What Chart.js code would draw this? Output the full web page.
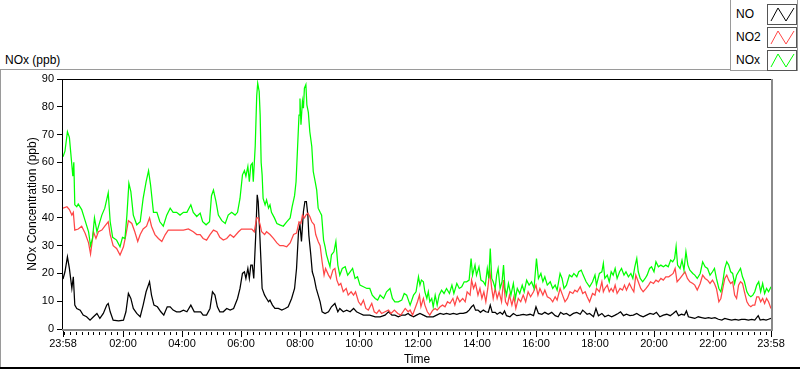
<!DOCTYPE html>
<html>
<head>
<meta charset="utf-8">
<script src="https://cdn.jsdelivr.net/npm/chart.js@4.4.1/dist/chart.umd.min.js"></script>
<style>
  html, body { margin: 0; padding: 0; background: #fff; }
  #wrap { position: relative; width: 800px; height: 369px; overflow: hidden; font-family: "Liberation Sans", Arial, sans-serif; color: #000; }
  #c { position: absolute; left: 0; top: 0; }
  .pline { position: absolute; background: #9a9a9a; }
  #legend { position: absolute; left: 730px; top: -1px; width: 68px; height: 72px; border: 1px solid #9a9a9a; box-sizing: border-box; background: #fff; }
  .lgText { position: absolute; left: 5px; font-size: 12px; line-height: 14px; }
  .lgBox { position: absolute; left: 36px; width: 30px; height: 21px; border: 1px solid #555; box-sizing: border-box; background: #fff; }
  .lgBox svg { position: absolute; left: 0; top: 0; }
  #unit { position: absolute; left: 5px; top: 53px; font-size: 12px; line-height: 14px; }
</style>
</head>
<body>
<div id="wrap">
  <div class="pline" style="left:0;top:69px;width:731px;height:1px;"></div>
  <div class="pline" style="left:0;top:69px;width:1px;height:299px;"></div>
  <div class="pline" style="left:0;top:367px;width:800px;height:2px;background:#000;"></div>
  <div id="unit">NOx (ppb)</div>
  <div id="legend"></div>
  <canvas id="c" width="800" height="369"></canvas>
</div>
<script>
// ---- Data (minutes after 23:58 start, values in ppb) ----
const seriesNames = ['NO', 'NO2', 'NOx'];
const seriesColors = ['#000000', '#ff4646', '#00ff00'];

const majorTickMinutes = [0, 122, 242, 362, 482, 602, 722, 842, 962, 1082, 1202, 1322, 1440];
const tickLabels = ['23:58', '02:00', '04:00', '06:00', '08:00', '10:00', '12:00', '14:00', '16:00', '18:00', '20:00', '22:00', '23:58'];
const yTickValues = [0, 10, 20, 30, 40, 50, 60, 70, 80, 90];

const noxT = [
  0,4,9,13,16,20,22,24,28,31,
  38,45,52,56,60,64,69,74,79,85,
  92,96,101,109,116,121,126,130,134,138,
  143,150,157,163,169,174,178,184,191,197,
  204,211,218,224,231,238,245,252,260,265,
  272,279,284,291,298,302,306,311,316,323,
  330,336,343,350,
  355,360,365,369,372,376,379,382,385,387,
  391,394,396,399,401,403,405,407,411,414,
  418,421,424,430,435,441,448,455,462,466,
  471,474,477,480,482,484,487,489,491,494,
  496,499,502,506,509,513,516,519,523,526,
  530,533,536,540,543,546,551,555,559,563,
  568,574,579,584,589,594,599,604,611,618,
  624,629,635,640,645,652,658,665,670,675,
  682,689,694,699,
  706,713,718,723,726,729,733,736,740,743,
  746,750,753,757,761,765,770,775,780,786,
  791,795,801,806,811,816,821,826,830,833,
  838,841,846,850,855,859,863,866,869,872,
  875,879,882,885,889,893,896,899,902,906,
  911,916,920,924,929,934,938,943,948,953,
  958,963,967,972,976,980,985,991,996,1001,
  1005,1011,1015,1019,1024,1030,1035,1039,1045,1049,
  1054,1058,1064,1071,
  1077,1082,1085,1091,1096,1099,1102,1107,1111,1115,
  1119,1123,1127,1132,1136,1141,1145,1150,1155,1159,
  1163,1167,1170,1174,1179,1184,1188,1193,1197,1202,
  1206,1211,1216,1221,1226,1231,1236,1240,1244,1247,
  1250,1255,1259,1263,1267,1271,1275,1281,1285,1290,
  1296,1301,1306,1311,1316,1321,1325,1329,1334,1338,
  1342,1346,1350,1354,1358,1362,1366,1370,1374,1378,
  1382,1386,1391,1395,1399,1403,1407,1411,1415,1419,
  1423,1427,1431,1435,1440
];
const noxV = [
  62,64,71,69,63,55,60,44.7,44,45,
  43,39,35,30,32.6,40,35,38,41,43.5,
  49,38.6,33,32,29.6,33,32.6,41,52.5,49.5,
  41,37.5,38.6,47,53,57,52,42,42,38.6,
  37,41,43.5,42,42,41,42,42,44.7,42,
  40.5,41.7,38.6,37.5,38.6,48,50,46,41,39,
  38,41,42,41,
  42,47,55.5,57,55,58.5,53,59,59.7,53,
  66,84,88.5,85.5,77,60,55.5,47,44.7,46.5,
  43.5,44.7,42,40,38,37.5,37,38.6,40,44,
  48,53,65,77,83,73.5,82,79.5,86.7,88,
  80.7,78,71,65.7,56.7,53,50,43.5,42,41,
  32,29.7,26.7,24.2,22.4,26.7,27.8,31.5,23,19.4,
  21.8,22.4,19.4,20.6,21.8,18.2,18.8,15.8,15.2,14.6,
  14.6,12.2,11,10.4,12.2,11,13.4,14.6,11,9.8,
  9.8,10.4,12.8,12.2,
  8.6,12.2,13.4,18.8,15.8,17.6,17,13.4,11,13.4,
  9.8,11,8,12.2,8.6,12.2,14,12.8,14.6,12.8,
  15.8,12.8,16.4,14.6,15.2,17,17,17.6,25.4,19.4,
  23,19.4,22.4,17.6,17,15.8,21.8,18.2,29,18.2,
  17,14.6,19.4,21.8,14.6,17,23,14.6,12.2,16.4,
  12.2,16.4,11,14.6,12.8,15.8,13.4,17.6,15.8,17,
  14.6,25.4,18.2,20,17,18.8,15.8,17,14.6,15.8,
  14,20,18.2,14.6,15.8,19.4,18.8,20,18.8,20.6,
  21.2,19.4,17,15.2,
  17,19.4,15.8,20,20.6,23.6,18.2,19.4,17,20.6,
  19.4,21.8,18.2,20.6,21.8,19.4,20.6,18.8,20,18.2,
  22.4,25.4,20.6,18.2,17,18.2,19.4,21.8,22.4,20.6,
  24.2,22.4,23,22.4,23,22.4,24.8,24.2,25.4,29.7,
  23,21.8,24.8,21.2,27.8,23,21.2,20,19.4,18.2,
  20,24.2,22.4,21.8,19.4,20.6,21.8,18.2,14.6,13.4,
  17,21.8,24.2,23,20.6,20,16.4,19.4,20.6,21.8,
  18.8,17,13.4,12.2,11.6,12.2,13.4,15.8,17,13.4,
  16.4,12.8,14.6,13.4,15.2
];

const no2T = [
  0,8,13,18,21,24,31,38,45,52,
  56,62,67,72,79,85,92,96,102,109,
  116,123,128,133,140,146,152,157,163,170,
  176,180,187,194,201,208,214,224,235,245,
  255,265,272,279,285,292,299,306,313,319,
  326,333,340,347,
  357,363,370,377,384,389,394,397,401,404,
  410,414,421,428,435,441,448,455,462,469,
  475,480,484,487,491,494,498,502,506,511,
  514,519,523,527,531,534,540,544,549,553,
  557,561,565,570,576,580,586,591,595,601,
  606,611,616,621,628,633,638,643,648,655,
  662,667,674,681,687,696,702,
  706,711,716,721,725,728,733,736,741,746,
  752,757,761,767,772,777,782,787,793,797,
  802,807,813,818,822,828,831,835,839,844,
  848,852,856,860,864,868,872,875,879,883,
  887,892,896,900,904,908,913,917,921,926,
  931,936,941,946,951,957,962,966,970,976,
  980,985,991,996,1001,1005,1011,1016,1021,1026,
  1031,1037,1041,1046,1052,1057,1062,1066,1071,
  1077,1082,1085,1091,1096,1099,1102,1107,1111,1115,
  1119,1123,1127,1133,1138,1142,1146,1152,1157,1161,
  1165,1170,1175,1180,1186,1191,1195,1201,1206,1211,
  1216,1221,1226,1232,1237,1241,1245,1249,1255,1260,
  1265,1270,1275,1281,1285,1290,1296,1301,1306,1311,
  1316,1321,1325,1329,1334,1338,1342,1346,1350,1354,
  1358,1362,1366,1370,1374,1378,1382,1386,1391,1395,
  1399,1403,1407,1411,1415,1419,1423,1427,1431,1435,
  1440
];
const no2V = [
  43.5,44,43,41,42,35.6,36,37,34.5,31,
  27,35,32.6,35,35.6,37,38.6,34,30,29,
  26.6,29.6,34,39,38,35,31.5,34,36,37,
  40,37,34,32.6,31.5,34,35.6,35.6,35.6,35.6,
  36,35,34,34,32.6,32,34,35.6,35,33,
  32,32.6,34,33,
  35,36,36,36,36,35,40,40,37.5,35,
  34,35,34,32.6,31,30,30,29.6,31,34,
  34.5,38.6,38,41,40,41,41.7,40.5,38.6,37.5,
  34,31.5,30,24.2,19.4,21.8,19.4,18.2,21.2,21.8,
  17.6,15.8,16.4,13.4,14.6,12.2,13.4,12.2,13.4,9.8,
  8.6,10.4,7.4,6.8,9.2,6.2,5.6,6.8,5.6,6.2,
  6.8,5.6,6.8,5.6,5,7.4,6.2,
  6.8,5,7.4,9.8,12.2,8,11,8.6,6.2,5,
  6.8,7.4,6.8,8,8.6,8,9.8,9.2,11,8.6,
  11.6,9.8,11,9.8,13.4,12.2,17.6,14.6,16.4,12.2,
  14.6,11,13.4,9.8,14.6,21.2,14.6,11,14.6,11,
  13.4,9.8,17.6,9.8,8.6,12.2,8.6,11.6,7.4,11,
  9.8,12.2,9.8,13.4,11.6,13.4,15.8,12.2,14.6,12.2,
  14,11.6,11,9.8,11.6,10.4,14.6,12.2,9.8,11,
  13.4,12.8,14,13.4,15.2,12.8,13.4,11.6,9.8,
  12.8,12.2,14.6,13.4,17,13.4,14.6,15.8,13.4,14.6,
  13.4,15.8,12.8,14.6,14,15.8,14,16.4,14.6,13.4,
  19.4,17,14.6,13.4,14.6,15.8,17,16.4,17.6,17,
  18.2,17.6,18.8,18.8,19.4,20,21.8,17,18.2,19.4,
  20.6,18.2,17,16.4,15.8,14,16.4,19.4,18.2,17.6,
  16.4,17.6,16.4,14.6,9.8,11,14.6,18.2,19.4,17.6,
  16.4,17,12.2,11,15.8,17,16.4,13.4,9.8,8.6,
  8,8.6,8.6,11.6,11.6,9.8,11,9.2,11,9.8,
  7.4
];

const noT = [
  0,4,9,13,18,21,24,28,35,41,
  48,55,62,69,75,82,89,92,96,102,
  113,123,128,133,138,143,150,157,163,169,
  176,180,185,192,199,205,212,218,224,231,
  238,245,252,260,267,273,280,285,292,299,
  304,309,314,319,326,333,340,347,
  355,360,365,369,372,376,379,382,385,388,
  392,395,397,400,403,405,410,414,418,421,
  426,431,438,445,452,458,465,471,475,479,
  482,485,489,492,495,498,500,504,507,511,
  515,519,523,527,533,540,546,553,559,563,
  570,577,584,591,597,604,611,618,624,635,
  645,655,662,669,675,682,689,696,702,
  706,713,719,726,733,740,746,753,760,767,
  774,780,787,794,801,807,814,821,826,831,
  835,839,844,849,855,860,865,869,873,879,
  883,889,894,898,902,909,916,923,929,936,
  943,950,957,962,967,974,980,987,994,1001,
  1007,1012,1018,1024,1031,1038,1045,1052,1057,1062,
  1066,1071,
  1079,1084,1089,1096,1102,1109,1116,1123,1129,1134,
  1140,1146,1153,1160,1167,1174,1180,1187,1194,1201,
  1207,1214,1221,1228,1235,1241,1247,1252,1258,1264,
  1268,1272,1279,1285,1292,1299,1306,1313,1319,1326,
  1333,1340,1346,1353,1360,1367,1374,1380,1387,1394,
  1401,1407,1414,1418,1424,1430,1435,1440
];
const noV = [
  18,20.6,26,21.8,14.6,18.8,8.6,7.4,6.8,5,
  4.4,3.2,4.4,5.6,3.8,5.6,8.6,9.2,6.2,3.2,
  2.9,3.2,6.2,12.8,11,7.4,5.6,4.4,8.6,13.4,
  17,12.2,8.6,8,6.2,5,8,8,6.8,6.2,
  6.2,6.8,6.2,8.6,6.2,6.2,6.2,5,5,7.4,
  13.4,12.2,8,6.2,6.2,7.4,6.8,7.4,
  11,14.6,20,20.6,18.2,21.8,18.2,23,23,18.2,
  33.8,48.3,45.9,35,23,14.6,12.2,11,9.8,10.4,
  8.6,7.4,7.4,6.8,7.4,8,11,14.6,21.8,35,
  37.5,31.5,42.3,45.9,45.9,41,33.8,26.7,20.6,18.2,
  14.6,12.2,9.8,6.2,5.6,6.2,8,9.2,6.2,7.4,
  6.2,6.8,6.2,7.4,6.2,5.6,5,5,5,4.4,
  4.4,5,6.2,5,5,4.4,5,5,5.6,
  5,4.4,5,5.6,5,4.4,4.4,4.4,5,5.6,
  5.3,5.6,5.3,5.6,5.3,5.6,5.6,6,6.8,8,
  8.6,6.8,6.8,6,6.8,6.2,6,8.6,6,6,
  5.3,6,5.3,6.5,4.8,4.4,5.6,4.8,5,5.3,
  5,5.3,4.8,8,5.6,5.3,6,5.3,6,4.8,
  4.4,6,5.3,5.6,4.8,5.6,6,5.3,6.8,6,
  5.3,5.6,
  4.4,7.4,4.8,5.6,4.4,5,4.4,5,5.6,6.2,
  4.8,5.3,4.8,5,5.6,4.8,4.4,5,5.6,5.3,
  6,4.4,5,5.3,4.8,5.6,6.5,4.8,5.3,5,
  6.5,4.4,4.1,3.8,4.4,4.1,3.8,4.1,3.8,4.1,
  3.5,3.2,3.8,3.5,3.2,3.5,3.2,3.5,3.5,3.2,
  3.5,3.2,4.8,3.2,3.5,3.2,3.5,3.8
];

// ---- Legend (HTML, LabVIEW style) ----
const legend = document.getElementById('legend');
seriesNames.forEach((name, i) => {
  const top = 4 + i * 23;
  const t = document.createElement('div');
  t.className = 'lgText';
  t.style.top = (top + 3) + 'px';
  t.textContent = name;
  legend.appendChild(t);
  const b = document.createElement('div');
  b.className = 'lgBox';
  b.style.top = top + 'px';
  b.innerHTML = '<svg width="28" height="19"><polyline points="3,16 10,3 18,16 26,3" fill="none" stroke="' + seriesColors[i] + '" stroke-width="1"/></svg>';
  legend.appendChild(b);
});

// ---- Chart ----
Chart.defaults.font.family = '"Liberation Sans", Arial, sans-serif';
Chart.defaults.color = '#000';

const toPoints = (ts, vs) => ts.map((t, i) => ({ x: t, y: vs[i] }));

const framePlugin = {
  id: 'frame',
  afterDraw(chart) {
    const { ctx, chartArea: a, scales: { x } } = chart;
    ctx.save();
    ctx.fillStyle = '#000';
    for (let m = 2; m < 1440; m += 12) {
      if (majorTickMinutes.includes(m)) continue;
      const px = Math.round(x.getPixelForValue(m));
      ctx.fillRect(px, a.bottom + 3, 1, 3);
    }
    majorTickMinutes.forEach(v => {
      const px = Math.round(x.getPixelForValue(v));
      ctx.fillRect(px, a.bottom + 2, 1, 6);
    });
    ctx.fillStyle = '#000';
    ctx.fillRect(a.left - 1, a.top, a.right - a.left + 1, 1);
    ctx.fillRect(a.left - 1, a.top, 1, a.bottom - a.top);
    ctx.fillStyle = '#8a8a8a';
    ctx.fillRect(a.right, a.top, 2, a.bottom - a.top + 2);
    ctx.fillRect(a.left - 1, a.bottom, a.right - a.left + 3, 2);
    ctx.restore();
  }
};

new Chart(document.getElementById('c'), {
  type: 'line',
  data: {
    datasets: [
      { label: seriesNames[2], data: toPoints(noxT, noxV), borderColor: seriesColors[2] },
      { label: seriesNames[1], data: toPoints(no2T, no2V), borderColor: seriesColors[1] },
      { label: seriesNames[0], data: toPoints(noT, noV), borderColor: seriesColors[0] }
    ]
  },
  options: {
    responsive: false,
    animation: false,
    layout: { padding: { left: 25, right: 29, top: 79, bottom: 0 } },
    elements: { point: { radius: 0 }, line: { borderWidth: 1.25, tension: 0 } },
    plugins: { legend: { display: false }, tooltip: { enabled: false } },
    scales: {
      x: {
        type: 'linear', min: 0, max: 1440,
        afterFit(s) { s.height = 40; },
        afterBuildTicks(s) { s.ticks = majorTickMinutes.map(v => ({ value: v })); },
        grid: { display: false, drawTicks: false },
        border: { display: false },
        ticks: { autoSkip: false, maxRotation: 0, padding: 8, font: { size: 11 }, color: '#000',
                 callback: (v, i) => tickLabels[i] },
        title: { display: true, text: 'Time', font: { size: 12 }, color: '#000', padding: { top: 0, bottom: 2 } }
      },
      y: {
        min: 0, max: 90,
        afterFit(s) { s.width = 38; },
        afterBuildTicks(s) { s.ticks = yTickValues.map(v => ({ value: v })); },
        grid: { drawOnChartArea: false, drawTicks: true, tickLength: 6, color: '#000' },
        border: { display: false },
        ticks: { padding: 3, font: { size: 11 }, color: '#000' },
        title: { display: true, text: 'NOx Concentration (ppb)', font: { size: 12 }, color: '#000', padding: { top: 0, bottom: 0 } }
      }
    }
  },
  plugins: [framePlugin]
});
</script>
</body>
</html>
